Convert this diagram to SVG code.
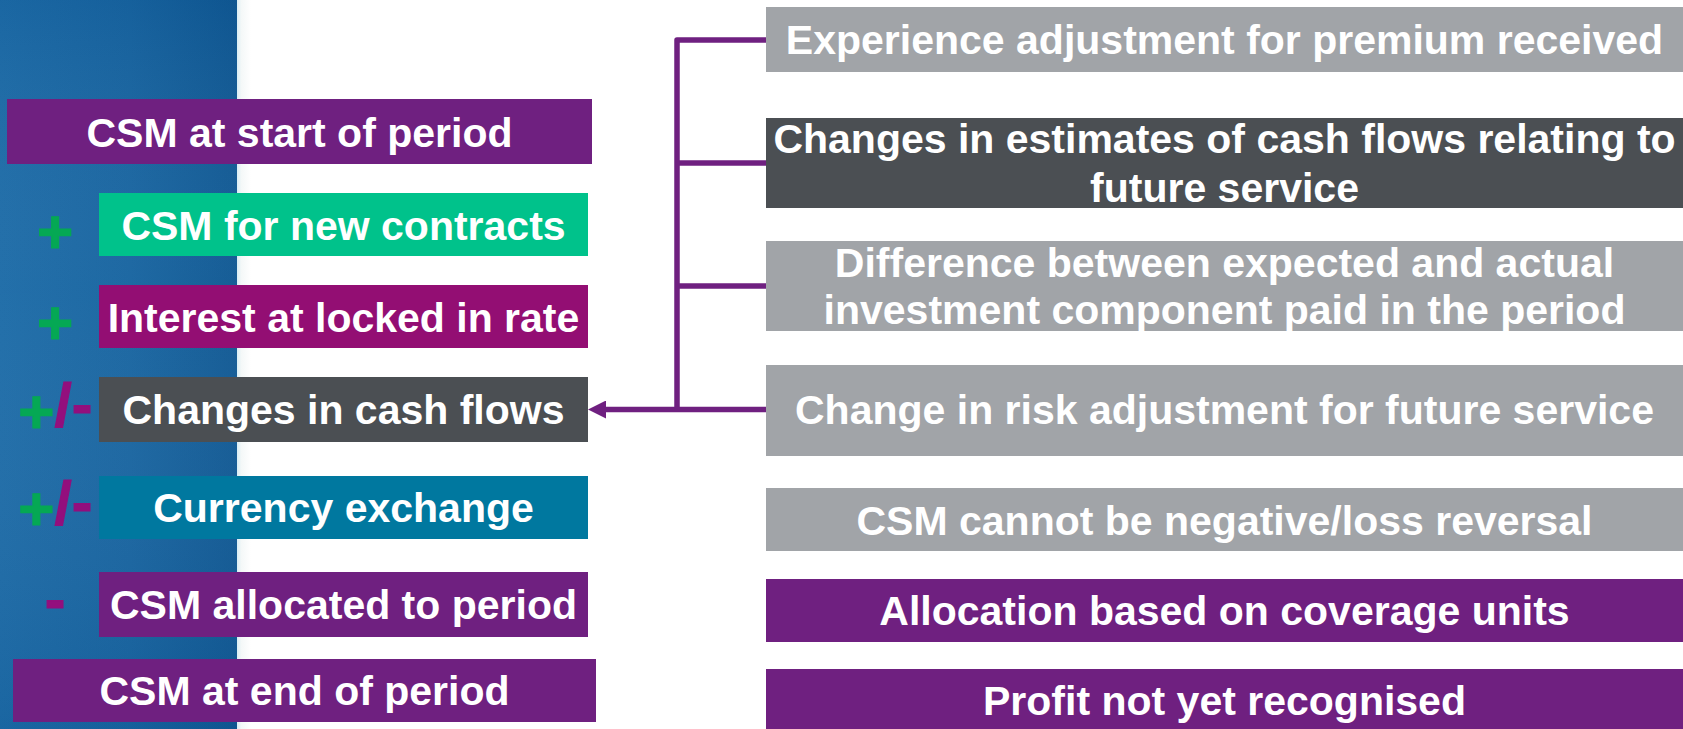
<svg xmlns="http://www.w3.org/2000/svg" width="1683" height="729" viewBox="0 0 1683 729">
<defs>
<style>
.t{font-family:"Liberation Sans",Arial,sans-serif;font-weight:bold;font-size:41px;fill:#ffffff;text-anchor:middle}
.s{font-family:"Liberation Sans",Arial,sans-serif;font-weight:bold;font-size:62px;text-anchor:middle;stroke-width:1.2}
.g{fill:#05a854;stroke:#05a854}
.p{fill:#930f7d;stroke:#930f7d}
.conn{fill:none;stroke:#6f2080;stroke-width:5.5;stroke-linejoin:round}
.purple{fill:#6f2080}
.green{fill:#00c28b}
.magenta{fill:#930e73}
.dark{fill:#4b4f53}
.teal{fill:#00789f}
.grey{fill:#a1a4a8}
</style>
<linearGradient id="blue" x1="0" y1="0" x2="1" y2="0">
<stop offset="0" stop-color="#1c6ba7"/>
<stop offset="0.55" stop-color="#1764a0"/>
<stop offset="1" stop-color="#0f5893"/>
</linearGradient>
<linearGradient id="shade" x1="0" y1="0" x2="0" y2="1">
<stop offset="0" stop-color="#0a3f78" stop-opacity="0.10"/>
<stop offset="0.4" stop-color="#ffffff" stop-opacity="0.03"/>
<stop offset="1" stop-color="#0a3f78" stop-opacity="0.12"/>
</linearGradient>
<linearGradient id="edge" x1="0" y1="0" x2="1" y2="0">
<stop offset="0" stop-color="#d8edf4"/>
<stop offset="0.3" stop-color="#f4f8f8"/>
<stop offset="1" stop-color="#ffffff"/>
</linearGradient>
<marker id="arrow" markerUnits="userSpaceOnUse" markerWidth="18" markerHeight="18" viewBox="0 0 18 18" refX="6" refY="9" orient="auto">
<path d="M0,0 L18,9 L0,18 Z" fill="#6f2080"/>
</marker>
</defs>
<rect x="0" y="0" width="1683" height="729" fill="#ffffff"/>
<rect x="0" y="0" width="237" height="729" fill="url(#blue)"/>
<rect x="0" y="0" width="237" height="729" fill="url(#shade)"/>
<rect x="237" y="0" width="14" height="729" fill="url(#edge)"/>

<g id="connectors">
<path class="conn" d="M766,40 H677 V409.5"/>
<path class="conn" d="M677,163 H766"/>
<path class="conn" d="M677,286 H766"/>
<path class="conn" d="M766,409.5 H600" marker-end="url(#arrow)"/>
</g>

<g id="signs">
<text class="s g" x="55" y="253">+</text>
<text class="s g" x="55" y="343.5">+</text>
<text class="s"><tspan class="g" x="36.4" y="433">+</tspan><tspan class="p" x="63" y="425.7">/</tspan><tspan class="p" x="82" y="425">-</tspan></text>
<text class="s"><tspan class="g" x="36.4" y="530.4">+</tspan><tspan class="p" x="63" y="524">/</tspan><tspan class="p" x="82" y="523">-</tspan></text>
<text class="s p" x="55" y="620">-</text>
</g>

<g id="csm-start">
<rect class="purple" x="7" y="99" width="585" height="65"/>
<text class="t" x="299.5" y="146.5">CSM at start of period</text>
</g>
<g id="csm-new">
<rect class="green" x="99" y="193" width="489" height="63"/>
<text class="t" x="343.5" y="239.5">CSM for new contracts</text>
</g>
<g id="interest">
<rect class="magenta" x="99" y="285" width="489" height="63"/>
<text class="t" x="343.5" y="332">Interest at locked in rate</text>
</g>
<g id="cash-flows">
<rect class="dark" x="99" y="377" width="489" height="65"/>
<text class="t" x="343.5" y="424">Changes in cash flows</text>
</g>
<g id="currency">
<rect class="teal" x="99" y="476" width="489" height="63"/>
<text class="t" x="343.5" y="522">Currency exchange</text>
</g>
<g id="csm-allocated">
<rect class="purple" x="99" y="572" width="489" height="65"/>
<text class="t" x="343.5" y="619">CSM allocated to period</text>
</g>
<g id="csm-end">
<rect class="purple" x="13" y="659" width="583" height="63"/>
<text class="t" x="304.5" y="705">CSM at end of period</text>
</g>

<g id="experience">
<rect class="grey" x="766" y="7" width="917" height="65"/>
<text class="t" x="1224.5" y="54.3">Experience adjustment for premium received</text>
</g>
<g id="estimates">
<rect class="dark" x="766" y="118" width="917" height="90"/>
<text class="t" x="1224.5" y="153">Changes in estimates of cash flows relating to</text>
<text class="t" x="1224.5" y="201.5">future service</text>
</g>
<g id="investment">
<rect class="grey" x="766" y="241" width="917" height="90"/>
<text class="t" x="1224.5" y="276.5">Difference between expected and actual</text>
<text class="t" x="1224.5" y="323.5">investment component paid in the period</text>
</g>
<g id="risk">
<rect class="grey" x="766" y="365" width="917" height="91"/>
<text class="t" x="1224.5" y="423.5">Change in risk adjustment for future service</text>
</g>
<g id="negative">
<rect class="grey" x="766" y="488" width="917" height="63"/>
<text class="t" x="1224.5" y="535">CSM cannot be negative/loss reversal</text>
</g>
<g id="allocation">
<rect class="purple" x="766" y="579" width="917" height="63"/>
<text class="t" x="1224.5" y="625">Allocation based on coverage units</text>
</g>
<g id="profit">
<rect class="purple" x="766" y="669" width="917" height="70"/>
<text class="t" x="1224.5" y="715">Profit not yet recognised</text>
</g>
</svg>
